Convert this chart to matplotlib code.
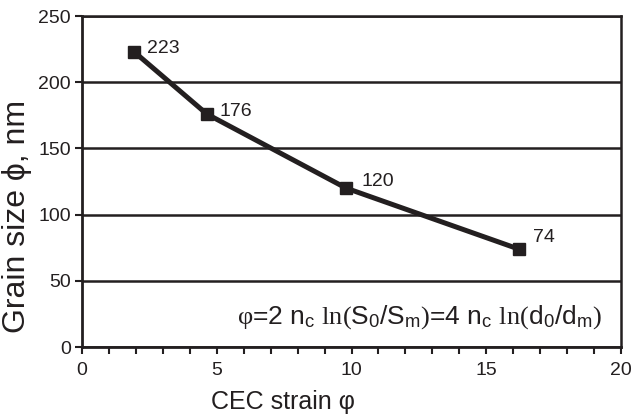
import matplotlib
matplotlib.use("Agg")
import matplotlib.pyplot as plt
from matplotlib.ticker import MultipleLocator

strain = [1.93, 4.63, 9.8, 16.2]
grain = [223, 176, 120, 74]
labels = ["223", "176", "120", "74"]

plt.rcParams['font.family'] = ['Liberation Sans', 'DejaVu Sans']
plt.rcParams['mathtext.fontset'] = 'custom'
plt.rcParams['mathtext.rm'] = 'Liberation Serif'
plt.rcParams['mathtext.sf'] = 'Liberation Sans'
plt.rcParams['mathtext.it'] = 'Liberation Serif:italic'
plt.rcParams['mathtext.bf'] = 'Liberation Serif:bold'

INK = '#231f20'

fig = plt.figure(figsize=(6.32, 4.16), dpi=100)
ax = fig.add_axes([82/632, 1-347/416, (621-82)/632, (347-16)/416])

ax.set_xlim(0, 20)
ax.set_ylim(0, 250)
ax.xaxis.set_major_locator(MultipleLocator(5))
ax.xaxis.set_minor_locator(MultipleLocator(1))
ax.yaxis.set_major_locator(MultipleLocator(50))
ax.grid(axis='y', color=INK, linewidth=1.8)
ax.set_axisbelow(True)
for s in ax.spines.values():
    s.set_color(INK)
    s.set_linewidth(2.0)
ax.spines['top'].set_linewidth(1.8)
ax.spines['right'].set_linewidth(1.8)

ax.tick_params(axis='x', which='both', direction='out', length=5, width=1.5, colors=INK, labelsize=14, pad=6)
ax.tick_params(axis='y', which='major', direction='out', length=5, width=1.5, colors=INK, labelsize=14, pad=3)

ax.plot(strain, grain, color=INK, linewidth=3.6, marker='s', markersize=8, zorder=3)
offsets = [(13, 3), (13, 2), (15, 7), (14, 12)]
for x, y, t, (dx, dy) in zip(strain, grain, labels, offsets):
    ax.annotate(t, (x, y), xytext=(dx, dy), textcoords='offset pixels', fontsize=14,
                color=INK, ha='left', va='center')

fig.text(17/632, 1-216/416, 'Grain size ϕ, nm', rotation=90, ha='center', va='center',
         fontsize=23, color=INK)
fig.text(283/632, 1-402/416, 'CEC strain φ', ha='center', va='center',
         fontsize=18, color=INK)

formula = (r'$\mathrm{φ}$=2 n$_\mathsf{c}$ $\mathrm{ln(}$S$_\mathsf{0}$/S$_\mathsf{m}\mathrm{)}$'
           r'=4 n$_\mathsf{c}$ $\mathrm{ln(}$d$_\mathsf{0}$/d$_\mathsf{m}\mathrm{)}$')
fig.text(602/632, 1-317/416, formula, ha='right', va='center', fontsize=19, color=INK)

fig.savefig('out.png', dpi=100)
